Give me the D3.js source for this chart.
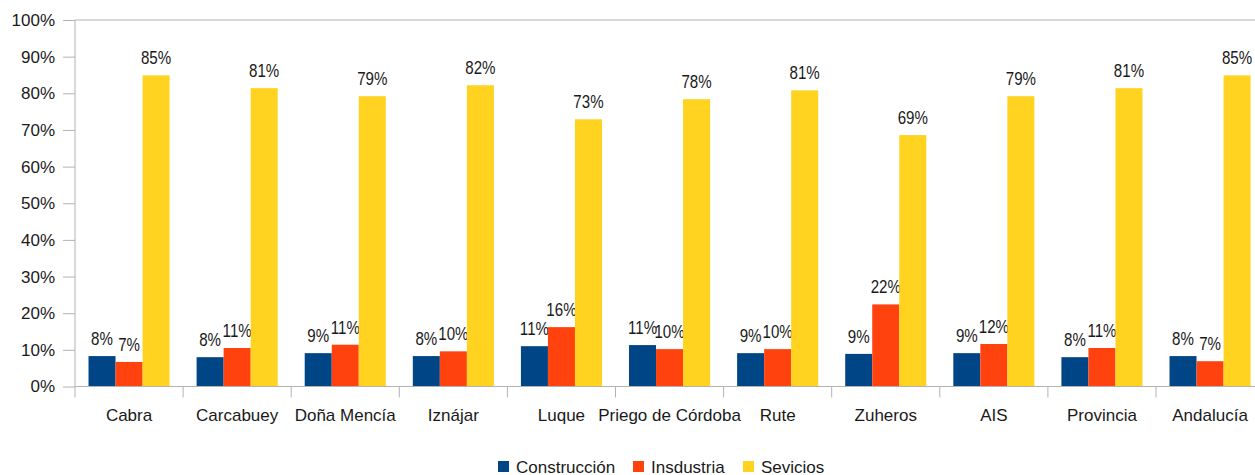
<!DOCTYPE html>
<html lang="es">
<head>
  <meta charset="UTF-8">
  <script src="https://d3js.org/d3.v7.min.js"></script>
  <style>
    body { margin: 0; background: #fff; }
    .axis-label { font-family: "Liberation Sans", Arial, sans-serif; font-size: 17px; fill: #1a1a1a; }
    .value-label { font-family: "Liberation Sans", Arial, sans-serif; font-size: 18px; fill: #1a1a1a; }
  </style>
  <title>Empleo por sector</title>
</head>
<body>
  <svg id="chart" width="1255" height="475"></svg>
  <script>
    // Data
    var categories = ["Cabra", "Carcabuey", "Doña Mencía", "Iznájar", "Luque", "Priego de Córdoba",
      "Rute", "Zuheros", "AIS", "Provincia", "Andalucía"];
    var construccion = [8.3, 8.0, 9.1, 8.3, 11.0, 11.3, 9.1, 8.9, 9.1, 8.0, 8.3];
    var industria = [6.7, 10.5, 11.4, 9.6, 16.2, 10.2, 10.2, 22.4, 11.6, 10.5, 6.9];
    var servicios = [84.9, 81.4, 79.2, 82.2, 72.9, 78.4, 80.8, 68.6, 79.2, 81.4, 84.9];
    var seriesNames = ["Construcción", "Insdustria", "Sevicios"];
    var seriesColors = ["#004586", "#ff420e", "#ffd320"];
    var yTicks = [0, 10, 20, 30, 40, 50, 60, 70, 80, 90, 100];

    var series = [construccion, industria, servicios];

    var svg = d3.select("#chart");

    // plot box (right side runs past the window, as in the original)
    var plotLeft = 75, plotTop = 20, plotBottom = 386.5, catW = 108.1;

    // scales
    var x = d3.scaleBand()
      .domain(categories)
      .range([plotLeft, plotLeft + categories.length * catW]);

    var xs = d3.scaleBand()
      .domain(seriesNames)
      .range([0, x.bandwidth()])
      .paddingOuter(0.5)
      .paddingInner(0);

    var y = d3.scaleLinear().domain([0, 100]).range([plotBottom, plotTop]);

    // top border line
    svg.append("line")
      .attr("x1", plotLeft).attr("x2", 1255)
      .attr("y1", y(100)).attr("y2", y(100))
      .attr("stroke", "#b3b3b3").attr("stroke-width", 1);

    // bars + value labels
    var groups = svg.selectAll("g.cat")
      .data(categories)
      .enter().append("g")
      .attr("class", "cat")
      .attr("transform", function (d) { return "translate(" + x(d) + ",0)"; });

    groups.each(function (c, ci) {
      var g = d3.select(this);
      seriesNames.forEach(function (s, si) {
        var v = series[si][ci];
        g.append("rect")
          .attr("x", xs(s))
          .attr("y", y(v))
          .attr("width", xs.bandwidth())
          .attr("height", y(0) - y(v))
          .attr("fill", seriesColors[si]);
        // labels in the original use a narrow face, squeeze horizontally
        g.append("text")
          .attr("class", "value-label")
          .attr("transform", "translate(" + (xs(s) + xs.bandwidth() / 2) + "," + (y(v) - 11) + ") scale(0.84,1)")
          .attr("text-anchor", "middle")
          .text(Math.round(v) + "%");
      });
    });

    // y axis
    var yAxis = d3.axisLeft(y)
      .tickValues(yTicks)
      .tickSize(12)
      .tickPadding(8)
      .tickFormat(function (d) { return d + "%"; });

    var ya = svg.append("g")
      .attr("transform", "translate(" + plotLeft + ",0)")
      .call(yAxis);
    ya.select(".domain").attr("stroke", "#b3b3b3").attr("d", "M0," + y(100) + "V" + (y(0) + 11));
    ya.selectAll(".tick line").attr("stroke", "#b3b3b3");
    ya.selectAll(".tick text")
      .attr("class", "axis-label")
      .attr("fill", null)
      .style("font-size", "17px")
      .style("font-family", "'Liberation Sans', Arial, sans-serif");
    ya.attr("font-size", null).attr("font-family", null);

    // x axis baseline
    svg.append("line")
      .attr("x1", plotLeft).attr("x2", 1255)
      .attr("y1", y(0)).attr("y2", y(0))
      .attr("stroke", "#b3b3b3");

    // category boundary ticks
    svg.selectAll("line.ctick")
      .data(categories.slice(1))
      .enter().append("line")
      .attr("class", "ctick")
      .attr("x1", function (d) { return x(d); })
      .attr("x2", function (d) { return x(d); })
      .attr("y1", y(0)).attr("y2", y(0) + 11)
      .attr("stroke", "#b3b3b3");

    // category labels
    svg.selectAll("text.cat-label")
      .data(categories)
      .enter().append("text")
      .attr("class", "axis-label")
      .attr("x", function (d) { return x(d) + x.bandwidth() / 2; })
      .attr("y", 421)
      .attr("text-anchor", "middle")
      .text(function (d) { return d; });

    // legend
    var legendX = [498, 633, 743];
    var legend = svg.selectAll("g.legend")
      .data(seriesNames)
      .enter().append("g")
      .attr("class", "legend")
      .attr("transform", function (d, i) { return "translate(" + legendX[i] + ",461)"; });

    legend.append("rect")
      .attr("width", 11).attr("height", 11)
      .attr("fill", function (d, i) { return seriesColors[i]; });

    legend.append("text")
      .attr("class", "axis-label")
      .attr("x", 18).attr("y", 11.5)
      .text(function (d) { return d; });
  </script>
</body>
</html>
